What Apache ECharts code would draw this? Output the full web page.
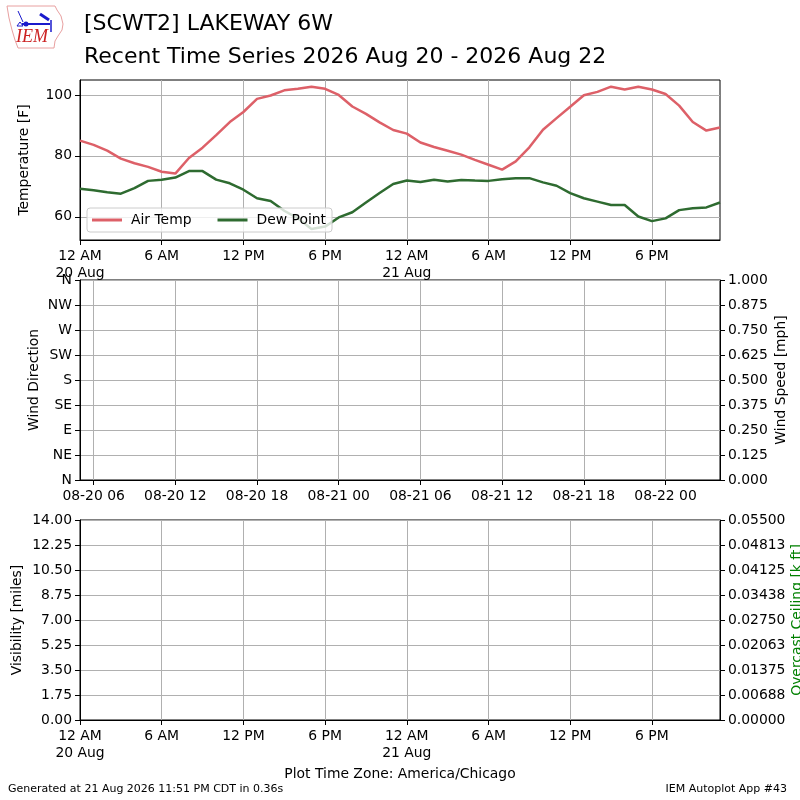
<!DOCTYPE html>
<html>
<head>
<meta charset="utf-8">
<script src="https://cdn.jsdelivr.net/npm/echarts@6/dist/echarts.min.js"></script>
<style>
html,body{margin:0;padding:0;background:#fff;}
#chart{width:800px;height:800px;}
</style>
</head>
<body>
<div id="chart"></div>
<script>
// ---- data (hourly, hours since 20 Aug 2026 00:00 CDT) ----
const hours = [0,1,2,3,4,5,6,7,8,9,10,11,12,13,14,15,16,17,18,19,20,21,22,23,
               24,25,26,27,28,29,30,31,32,33,34,35,36,37,38,39,40,41,42,43,44,45,46,47];
const airTemp = [85.0,83.6,81.7,79.1,77.6,76.4,74.8,74.2,79.3,82.7,86.8,91.1,94.4,98.7,99.8,101.5,102.0,102.7,102.0,100.0,96.2,93.8,91.0,88.5,
                 87.3,84.4,82.9,81.7,80.4,78.7,77.1,75.5,78.2,82.8,88.6,92.4,96.1,99.9,101.0,102.7,101.8,102.7,101.8,100.3,96.5,91.1,88.3,89.3];
const dewPoint = [69.2,68.7,68.1,67.6,69.4,71.8,72.2,72.9,75.0,75.0,72.2,71.0,68.9,66.1,65.2,62.0,59.5,56.0,56.8,59.8,61.5,64.7,67.8,70.8,
                  71.9,71.4,72.2,71.6,72.1,71.9,71.8,72.3,72.7,72.7,71.3,70.2,67.8,66.1,65.0,63.9,63.9,60.1,58.6,59.5,62.2,62.8,63.1,64.7];

// ---- tick labels ----
const localTickHours = [0,6,12,18,24,30,36,42];
const localTickLabels = ['12 AM\n20 Aug','6 AM','12 PM','6 PM','12 AM\n21 Aug','6 AM','12 PM','6 PM'];
const utcTickHours = [1,7,13,19,25,31,37,43];
const utcTickLabels = ['08-20 06','08-20 12','08-20 18','08-21 00','08-21 06','08-21 12','08-21 18','08-22 00'];
const tempTicks = [60,80,100];
const dirTickLabels = ['N','NE','E','SE','S','SW','W','NW','N'];
const speedTickLabels = ['0.000','0.125','0.250','0.375','0.500','0.625','0.750','0.875','1.000'];
const visTickLabels = ['0.00','1.75','3.50','5.25','7.00','8.75','10.50','12.25','14.00'];
const ceilTickLabels = ['0.00000','0.00688','0.01375','0.02063','0.02750','0.03438','0.04125','0.04813','0.05500'];

const FONT = 'DejaVu Sans';
const FS = 13.9;
const GRID = '#b0b0b0';

function lbl(arr, vals){
  return function(v){
    const i = vals.indexOf(Math.round(v*1000)/1000);
    return i >= 0 ? arr[i] : '';
  };
}

const chart = echarts.init(document.getElementById('chart'), null, {renderer:'canvas'});

const baseAxisLine = {show:true, lineStyle:{color:'#000', width:1}};
const baseTick = {show:true, inside:false, length:5, lineStyle:{color:'#000', width:1}};
const baseLabel = {color:'#000', fontFamily:FONT, fontSize:FS};
const baseSplit = {show:true, lineStyle:{color:GRID, width:1}};
const nameStyle = {color:'#000', fontFamily:FONT, fontSize:FS};

function timeXAxis(gridIndex, tickHours, tickLabels){
  return {
    type:'value', gridIndex:gridIndex, min:0, max:47, interval:6,
    axisLine:baseAxisLine,
    axisTick:Object.assign({}, baseTick, {customValues:tickHours}),
    axisLabel:Object.assign({}, baseLabel, {customValues:tickHours, margin:8, lineHeight:17,
      formatter:lbl(tickLabels, tickHours), showMinLabel:true, showMaxLabel:true}),
    splitLine:baseSplit
  };
}

function mkGrid(top, height){
  return {left:80, right:80, top:top, height:height, show:true, borderColor:'#000', borderWidth:1,
          backgroundColor:'transparent', containLabel:false, outerBoundsMode:'none'};
}

const option = {
  backgroundColor:'#fff',
  animation:false,
  title:{
    text:'[SCWT2] LAKEWAY 6W\nRecent Time Series 2026 Aug 20 - 2026 Aug 22',
    left:79, top:3,
    textStyle:{fontFamily:FONT, fontSize:22, fontWeight:'normal', color:'#000', lineHeight:33}
  },
  legend:{
    data:['Air Temp','Dew Point'],
    left:87, top:208,
    orient:'horizontal',
    icon:'rect', itemWidth:30, itemHeight:3, itemGap:26,
    padding:[5,6,5,5],
    backgroundColor:'rgba(255,255,255,0.8)',
    borderColor:'#cccccc', borderWidth:1, borderRadius:3,
    textStyle:{fontFamily:FONT, fontSize:FS, color:'#000', padding:[0,0,0,4]}
  },
  grid:[ mkGrid(80,160), mkGrid(280,200), mkGrid(520,200) ],
  xAxis:[
    timeXAxis(0, localTickHours, localTickLabels),
    timeXAxis(1, utcTickHours, utcTickLabels),
    timeXAxis(2, localTickHours, localTickLabels)
  ],
  yAxis:[
    {type:'value', gridIndex:0, min:52.4, max:104.9, splitNumber:3,
     name:'Temperature [F]', nameLocation:'middle', nameGap:49, nameRotate:90, nameMoveOverlap:false, nameTextStyle:nameStyle,
     axisLine:baseAxisLine,
     axisTick:Object.assign({}, baseTick, {customValues:tempTicks}),
     axisLabel:Object.assign({}, baseLabel, {customValues:tempTicks, margin:8,
       formatter:function(v){return tempTicks.indexOf(Math.round(v*100)/100)>=0 ? String(v) : '';}}),
     splitLine:baseSplit},
    {type:'value', gridIndex:1, min:0, max:360, interval:45,
     name:'Wind Direction', nameLocation:'middle', nameGap:39, nameRotate:90, nameMoveOverlap:false, nameTextStyle:nameStyle,
     axisLine:baseAxisLine, axisTick:baseTick,
     axisLabel:Object.assign({}, baseLabel, {margin:8,
       formatter:function(v){return dirTickLabels[Math.round(v/45)] || '';}}),
     splitLine:baseSplit},
    {type:'value', gridIndex:1, min:0, max:1, interval:0.125, position:'right',
     name:'Wind Speed [mph]', nameLocation:'middle', nameGap:54, nameRotate:90, nameMoveOverlap:false, nameTextStyle:nameStyle,
     axisLine:baseAxisLine, axisTick:baseTick,
     axisLabel:Object.assign({}, baseLabel, {margin:8,
       formatter:function(v){return speedTickLabels[Math.round(v/0.125)] || '';}}),
     splitLine:{show:false}},
    {type:'value', gridIndex:2, min:0, max:14, interval:1.75,
     name:'Visibility [miles]', nameLocation:'middle', nameGap:56, nameRotate:90, nameMoveOverlap:false, nameTextStyle:nameStyle,
     axisLine:baseAxisLine, axisTick:baseTick,
     axisLabel:Object.assign({}, baseLabel, {margin:8,
       formatter:function(v){return visTickLabels[Math.round(v/1.75)] || '';}}),
     splitLine:baseSplit},
    {type:'value', gridIndex:2, min:0, max:0.055, interval:0.006875, position:'right',
     name:'Overcast Ceiling [k ft]', nameLocation:'middle', nameGap:70, nameRotate:90, nameMoveOverlap:false,
     nameTextStyle:{color:'#008000', fontFamily:FONT, fontSize:FS},
     axisLine:baseAxisLine, axisTick:baseTick,
     axisLabel:Object.assign({}, baseLabel, {margin:8,
       formatter:function(v){return ceilTickLabels[Math.round(v/0.006875)] || '';}}),
     splitLine:{show:false}}
  ],
  series:[
    {name:'Air Temp', type:'line', xAxisIndex:0, yAxisIndex:0, showSymbol:false, symbol:'none',
     data:hours.map((h,i)=>[h, airTemp[i]]),
     lineStyle:{color:'#dd6068', width:2.5}, itemStyle:{color:'#dd6068'}, z:3},
    {name:'Dew Point', type:'line', xAxisIndex:0, yAxisIndex:0, showSymbol:false, symbol:'none',
     data:hours.map((h,i)=>[h, dewPoint[i]]),
     lineStyle:{color:'#2e6b30', width:2.5}, itemStyle:{color:'#2e6b30'}, z:3}
  ],
  graphic:[
    // IEM logo (approximate)
    {type:'polyline', shape:{points:[[7,6],[55,6],[57,10],[61,16],[63,24],[62,30],[58,36],[55,41],[54,48],[18,48],[15,40],[12,30],[9,18],[7,6]]},
     style:{stroke:'#e8a0a0', lineWidth:1, fill:null}},
    {type:'line', shape:{x1:22,y1:24,x2:50,y2:24}, style:{stroke:'#1a1acc', lineWidth:2}},
    {type:'line', shape:{x1:18,y1:11,x2:23,y2:22}, style:{stroke:'#1a1acc', lineWidth:1}},
    {type:'line', shape:{x1:40,y1:14,x2:49,y2:20}, style:{stroke:'#1a1acc', lineWidth:3}},
    {type:'line', shape:{x1:51,y1:20,x2:51,y2:32}, style:{stroke:'#1a1acc', lineWidth:1.5}},
    {type:'circle', shape:{cx:26,cy:24,r:2.5}, style:{fill:'#1a1acc'}},
    {type:'polygon', shape:{points:[[20,22],[17,26],[23,26]]}, style:{stroke:'#1a1acc', fill:null, lineWidth:1}},
    {type:'text', left:16, top:28, style:{text:'IEM', fill:'#cc2222', font:'italic 18px "Liberation Serif"'}},
    // footer
    {type:'text', left:'center', top:767, style:{text:'Plot Time Zone: America/Chicago', fill:'#000', font:'13.9px "DejaVu Sans"'}},
    {type:'text', left:8, top:784, style:{text:'Generated at 21 Aug 2026 11:51 PM CDT in 0.36s', fill:'#000', font:'11px "DejaVu Sans"'}},
    {type:'text', right:13, top:784, style:{text:'IEM Autoplot App #43', fill:'#000', font:'11px "DejaVu Sans"'}}
  ]
};
chart.setOption(option);
</script>
</body>
</html>
